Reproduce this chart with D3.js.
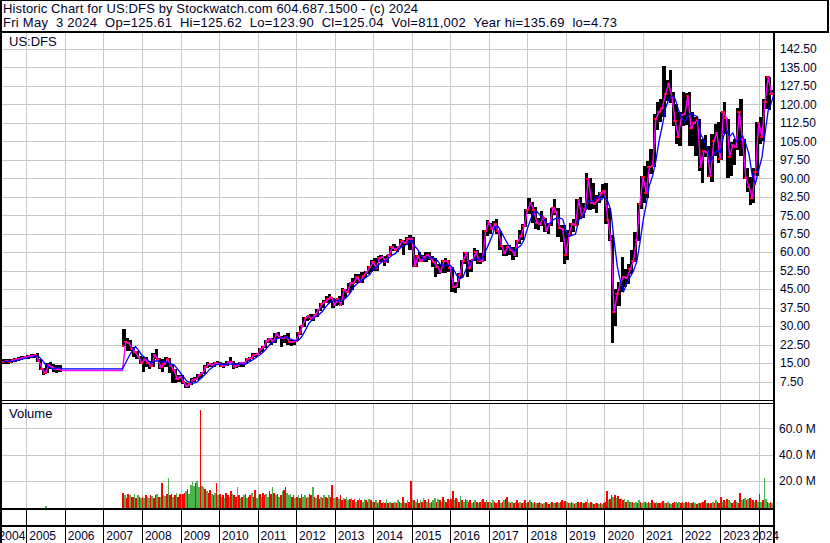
<!DOCTYPE html>
<html>
<head>
<meta charset="utf-8">
<script src="https://cdn.jsdelivr.net/npm/d3@7"></script>
<style>
  body { margin: 0; background: #fff; }
  svg { display: block; font-family: "Liberation Sans", Arial, sans-serif; }
</style>
</head>
<body>
<svg id="chart" width="830" height="543"></svg>
<script>
// monthly bars: May 2004 - Nov 2005, then Jul 2007 - May 2024
const months = d3.timeMonth.range(new Date(2004, 4, 1), new Date(2005, 11, 1))
  .concat(d3.timeMonth.range(new Date(2007, 6, 1), new Date(2024, 5, 1)));

const highs = [
  16.5, 16.8, 16.5, 16.8, 17.2, 17.5, 17.8, 18.0,                 // 2004 May-Dec
  18.3, 18.5, 18.8, 19.0, 16.5, 13.0, 15.0, 15.5, 14.5, 14.0, 14.0, // 2005 Jan-Nov
  29, 25, 24.5, 21.5, 20, 18,                                     // 2007 Jul-Dec
  17.5, 17.5, 16, 19, 20.5, 17, 16.5, 17.5, 17, 14, 12.5, 10,     // 2008
  10, 7.5, 7, 9, 9.5, 10.5, 11.5, 14, 15.5, 15, 15.5, 16,         // 2009
  15.5, 15, 16, 17.5, 16, 15, 15.5, 15.5, 17, 17.5, 19, 19,       // 2010
  21, 22, 24.5, 25, 25, 27, 27.5, 26, 26.5, 27, 24.5, 24.5,       // 2011
  27.5, 30, 33.5, 34, 35, 35, 37, 39.5, 40.5, 42, 43, 41.5,       // 2012
  41, 42, 45.5, 45, 47.5, 49.5, 51, 51, 52, 52.5, 54.5, 57,       // 2013
  57.5, 58.5, 59, 58.5, 59, 62.5, 63.5, 62.5, 65.5, 65, 66, 67,   // 2014
  66, 59, 60, 59, 60, 60, 58.5, 57.5, 55, 57, 57.5, 57,           // 2015
  54, 48, 51.5, 57, 60, 60, 57, 61.5, 61, 59.5, 69, 73,           // 2016
  72, 72.5, 73.5, 68.5, 63, 63, 63, 62, 65, 69, 71.5, 77.5,       // 2017
  81.9, 80.5, 78.5, 74, 76.5, 74, 72, 78, 81.5, 78, 71, 71,       // 2018
  69, 72, 73.5, 81.5, 82.5, 80, 92, 90, 88, 83, 84.5, 87.5,       // 2019
  88, 78, 67, 45, 48, 58, 53, 55, 61, 68, 80, 91,                 // 2020
  95, 97, 102, 116, 121, 122, 135.7, 130, 134, 125, 120, 117,     // 2021
  125, 124.5, 125, 117, 115, 114, 106, 107.5, 103, 108, 112, 113, // 2022
  117, 121, 114, 104.5, 106, 118.5, 122, 106, 94, 90.5, 94, 113,  // 2023
  115, 122, 131.5, 131, 125.6                                     // 2024 Jan-May
];

const lows = [
  14.5, 14.8, 14.8, 15.0, 15.5, 15.8, 16.2, 16.5,
  16.8, 17.0, 17.0, 15.5, 12.0, 10.0, 11.0, 12.5, 11.5, 11.0, 11.5,
  22, 20, 20, 17.5, 16.5, 14.5,
  11.5, 13.5, 12.5, 13.5, 16.5, 12.5, 11.5, 13.5, 11, 7, 7, 7.5,
  6.5, 5, 4.73, 6, 7.5, 8, 9, 10.5, 13, 13.5, 13.5, 14,
  13.2, 13, 13.8, 15, 12.5, 13, 13.2, 13.5, 14.5, 16, 16.5, 17.5,
  18.5, 19.5, 21, 23, 22.5, 23, 25, 21.5, 23, 22.5, 22, 22.5,
  24, 26.5, 29.5, 32, 32.5, 32, 33.5, 36, 37.5, 39.5, 39.5, 37.5,
  38, 38.5, 38.5, 41.5, 43.5, 44.5, 47.5, 47.5, 47.5, 49.5, 51, 52,
  52.5, 52.5, 56, 54.5, 55.5, 58.5, 60.5, 60, 62, 59, 63, 61,
  54, 54, 56, 56, 56, 57, 54, 50, 51, 51.5, 51.5, 52,
  44, 43.5, 45.5, 49.5, 55, 50, 52, 56.5, 55, 55, 56.5, 66.5,
  67.5, 69, 67.5, 61, 58.5, 58.5, 59, 57, 58, 63.5, 65, 70,
  75.5, 72, 69.5, 69, 70.5, 68, 67.5, 70.5, 75, 66, 64, 55,
  57, 66.5, 68, 71, 73.5, 74, 77.5, 77, 77.5, 76, 80, 82,
  71.5, 64.5, 23.3, 30, 38, 44, 46, 47, 51, 56, 64.5, 77.5,
  80, 82, 91.5, 94.5, 109.5, 113, 115, 121.5, 120.5, 111, 104, 103,
  111, 111.5, 103, 103, 99, 93, 88, 98.5, 90.5, 88.5, 99, 96,
  97.5, 108, 90, 91, 95.5, 101.5, 99, 89.5, 84.5, 79, 80, 91,
  104, 105, 118, 117.5, 123.9
];

const closes = [
  15.5, 15.8, 15.6, 16.2, 16.5, 16.8, 17.2, 17.5,
  17.8, 18.0, 18.2, 16.0, 12.5, 11.0, 14.0, 13.5, 12.5, 12.5, 12.0,
  23.5, 23, 20.8, 19.3, 17.5, 15.1,
  16.5, 15, 13.6, 18.2, 16.6, 13.2, 14.6, 16.5, 13.8, 12, 8.5, 9.5,
  7.2, 5.5, 6.3, 8.3, 8.5, 10.3, 11, 13.5, 14.5, 14.2, 15, 14.7,
  13.9, 14, 15.3, 15.5, 13.5, 14, 15.2, 14.8, 16.7, 17, 18.3, 18.5,
  20.5, 21.5, 24, 24.8, 23.8, 26.8, 25.5, 25, 25.6, 23.6, 23.5, 24,
  27, 30, 33.3, 33.9, 33, 34.6, 36.5, 38.8, 39.7, 40.9, 41.6, 38.6,
  40.9, 38.7, 44.8, 43.7, 47.4, 47.6, 49.8, 47.8, 50.5, 51.9, 53.9, 55.9,
  53.6, 57.5, 58.2, 56, 59, 62, 61, 62.2, 64.4, 63.8, 65.4, 65.5,
  54.4, 58.3, 56.3, 58, 58.9, 57.6, 55.8, 53.9, 52, 56.2, 56.6, 53.6,
  45.8, 46.4, 50.9, 56.3, 59.6, 53.6, 56.8, 60, 56.6, 56.6, 68.5, 72.1,
  69.4, 71.3, 68.4, 62.6, 59.5, 62.2, 61, 59, 64.5, 66.5, 70.6, 76.9,
  79.8, 77.2, 71.9, 71.3, 74.3, 68.9, 71.4, 78, 76.4, 69.7, 69.4, 59,
  67.5, 71.5, 71.2, 81, 74.5, 77.6, 89.7, 80.1, 79.7, 81.2, 84, 84.8,
  73, 65.5, 35.7, 43, 47.5, 50.1, 49.4, 53.1, 56.5, 65.1, 79.4, 90.5,
  83.8, 94.5, 95, 114, 117, 118.3, 124.3, 128.2, 122.9, 113.3, 106.7, 115.6,
  116, 123.5, 110.2, 112.5, 113.5, 94.6, 101, 100.5, 90.9, 105, 108.5, 97.8,
  116.7, 114.5, 98.8, 103.5, 102.8, 116.8, 105.6, 90.2, 86.6, 81.9, 92.5, 112.4,
  106.8, 120.9, 131.1, 124.3, 125.04
];

// volume in millions, two values per month (1st and 2nd half)
const volumes = [
  0, 0, 0, 0, 0, 0, 0, 0, 0, 0, 0, 0, 0, 0, 0, 0,                                   // 2004
  0, 0, 0, 0, 0, 0, 0, 0, 0, 0, 0, 0, 0.4, 0, 0, 0, 0, 0, 0, 0, 0, 0,               // 2005
  10.5, 9, 7, 10, 9.5, 8, 7.5, 10, 6.5, 9, 8, 7,                                    // 2007
  8, 7, 9.5, 8, 6.5, 9, 8.5, 7, 9, 10, 8, 7.5, 18, 9, 8.5, 10, 22, 9, 10, 8, 9.5, 11, 8, 10,
  9, 10, 11, 12, 14, 10, 17, 19, 16, 18, 20, 15, 74, 16, 15, 14, 12, 11, 13, 10, 9, 11, 18, 9,
  10, 8, 9, 7, 11, 9, 8, 12, 10, 9, 8, 15, 9, 7, 8, 9, 10, 7, 8, 9, 11, 8, 13, 7,
  9, 10, 8, 11, 9, 10, 8, 12, 10, 15, 11, 9, 10, 8, 9, 12, 13, 15, 11, 9, 10, 8, 9, 7,
  8, 9, 7, 10, 8, 9, 7, 8, 10, 9, 15, 8, 7, 9, 6, 8, 7, 9, 8, 7, 9, 8, 16.5, 7,
  7, 8, 6, 9, 5, 7, 6, 8, 5, 6, 7, 5, 6, 4, 5, 7, 5, 4, 6, 5, 4, 6, 5, 4,
  4, 5, 3, 4, 5, 3, 4, 3, 6, 3, 4, 3, 3, 4, 3, 5, 4, 3, 7.5, 4, 3, 5, 4, 19.5,
  6, 5, 4, 6, 3, 5, 4, 7, 5, 4, 6, 3, 4, 5, 7, 4, 6, 5, 4, 7.5, 5, 4, 6, 5,
  6, 12, 5, 7, 6, 4, 8.5, 5, 4, 6, 5, 4, 5, 3, 4, 5, 4, 3, 4, 5, 6, 4, 5, 4,
  4, 3, 5, 4, 3, 4, 5, 3, 4, 5, 6, 7.5, 4, 3, 4, 3, 4, 5, 3, 4, 3, 4, 5, 3,
  4, 5, 4, 3, 4, 3, 3, 4, 3, 2.5, 3, 4, 3, 2.5, 3, 4, 3, 3, 4, 3, 4, 5, 4, 4.5,
  4, 3, 3, 4, 3, 2.5, 3, 4, 3, 4, 3, 3, 4, 6, 3, 4, 3, 2.5, 3, 3, 2.5, 3, 2.5, 3,
  4, 12, 5, 6, 9.5, 8, 9, 7, 8.5, 6, 7, 5, 6, 4, 5, 4, 3.5, 4, 3, 4, 3, 5, 4, 3,
  3.5, 4, 3, 4, 3, 5, 4, 3, 4, 3, 3, 4, 4.5, 3, 3, 4, 3, 2.5, 3, 4, 3.5, 3, 4, 3,
  4, 3, 3.5, 3, 4, 3, 3, 4, 3, 2.5, 3, 3, 4, 3.5, 5, 3, 3, 2.5, 3, 4, 3, 5, 4, 3,
  8, 4, 5, 4, 6, 5, 4, 3, 4, 5, 4, 3, 11, 5, 6, 7, 5, 6, 7, 6, 5, 4, 5, 4,
  10, 4, 5, 22, 6, 4, 3, 4, 3, 2                                                    // 2024
];

// g = up day volume, r = down day volume
const volumeSide = [
  "gggggggggggggggg", "gggggggggggggggggggggg", "rgrrgrrgrgrg",
  "rgrggrgrrgrgrggrgrrgrgrr", "grrgrggggrggrggrgrrgrgrg", "rgrgrrgrgrrgrgrgrgrrgrrg",
  "grgrrggrrgrgrgrgrrgggrrg", "rgrrggrgrrgrgrrgrgrrgrrg", "grgrrgrggrgrrgrgrggrrgrg",
  "rgrgrrgrgrgrrgrgrgrgrgrr", "grgrrgrgrgrgrggrgrgrgrrg", "rrgrgrgrgrgrrgrgrgrgrrgr",
  "grgrrgrgrgrrgrgrgrrgrgrg", "rgrgrgrrgrgrgrgrgrrgrrgr", "grgrgrgrgrgrrggrgrgrgrgr",
  "rrgrrgrgrrgrgrgrgrggrgrg", "grgrgrgrgrrgrgrgrgrrgrgr", "rgrgrgrrgrgrgrrgrgrgrgrr",
  "rgrgrggrgrgrrgrgrgrgrgrg", "rgrggrgrgr"
].join("");

const priceTicks = [7.5, 15, 22.5, 30, 37.5, 45, 52.5, 60, 67.5, 75, 82.5, 90, 97.5, 105, 112.5, 120, 127.5, 135, 142.5];
const volumeTicks = [20, 40, 60];
const years = [2004, 2005, 2006, 2007, 2008, 2009, 2010, 2011, 2012, 2013, 2014,
  2015, 2016, 2017, 2018, 2019, 2020, 2021, 2022, 2023, 2024];

const titleLine = "Historic Chart for US:DFS by Stockwatch.com 604.687.1500 - (c) 2024";
const infoLine = "Fri May  3 2024  Op=125.61  Hi=125.62  Lo=123.90  Cl=125.04  Vol=811,002  Year hi=135.69  lo=4.73";

const textColor = "#00002a";
const gridColor = "#c8c8c8";

const svg = d3.select("#chart");

const x = d3.scaleTime()
  .domain([new Date(2005, 0, 1), new Date(2024, 0, 1)])
  .range([26.3, 758.7]);
const y = d3.scaleLinear().domain([0, 142.5]).range([400, 48.8]);
const yv = d3.scaleLinear().domain([0, 60]).range([507, 428.3]);

svg.append("rect").attr("width", 830).attr("height", 543).attr("fill", "#fff");

var defs = svg.append("defs");
defs.append("clipPath").attr("id", "clipP")
  .append("rect").attr("x", 2).attr("y", 33).attr("width", 771).attr("height", 367);
defs.append("clipPath").attr("id", "clipV")
  .append("rect").attr("x", 2).attr("y", 404).attr("width", 771).attr("height", 104);

// grid
var grid = svg.append("g").attr("stroke", gridColor).attr("shape-rendering", "crispEdges");
grid.selectAll(".hp").data(priceTicks).enter().append("line")
  .attr("x1", 2).attr("x2", 773)
  .attr("y1", d => Math.round(y(d)) + 0.5).attr("y2", d => Math.round(y(d)) + 0.5);
grid.selectAll(".hv").data(volumeTicks).enter().append("line")
  .attr("x1", 2).attr("x2", 773)
  .attr("y1", d => Math.round(yv(d)) + 0.5).attr("y2", d => Math.round(yv(d)) + 0.5);
var yearLines = years.slice(1).map(yr => Math.round(x(new Date(yr, 0, 1))) + 0.5);
yearLines.forEach(function (xx) {
  grid.append("line").attr("x1", xx).attr("x2", xx).attr("y1", 33).attr("y2", 400);
  grid.append("line").attr("x1", xx).attr("x2", xx).attr("y1", 404).attr("y2", 508);
});

// price bars
var bars = months.map((m, i) => ({ m: m, h: highs[i], l: lows[i], c: closes[i], o: i > 0 ? closes[i - 1] : closes[i] }));
var gP = svg.append("g").attr("clip-path", "url(#clipP)").attr("shape-rendering", "crispEdges");
gP.selectAll(".bar").data(bars).enter().append("rect")
  .attr("x", d => x(d.m))
  .attr("width", d => x(d3.timeMonth.offset(d.m, 1)) - x(d.m))
  .attr("y", d => y(d.h))
  .attr("height", d => y(d.l) - y(d.h))
  .attr("fill", "#000");
gP.selectAll(".tc").data(bars).enter().append("rect")
  .attr("x", d => x(d3.timeMonth.offset(d.m, 1)) - 2)
  .attr("width", 2)
  .attr("y", d => y(d.c) - 1)
  .attr("height", 2)
  .attr("fill", "#ff0000");
gP.selectAll(".to").data(bars).enter().append("rect")
  .attr("x", d => x(d.m))
  .attr("width", 1.5)
  .attr("y", d => y(Math.min(d.h, Math.max(d.l, d.o))) - 1)
  .attr("height", 2)
  .attr("fill", "#ff0000");

// averages: close line and 4-month average, plotted at month end
var slow = closes.map((c, i) => d3.mean(closes.slice(Math.max(0, i - 3), i + 1)));
function linePoints(vals) {
  var pts = [];
  months.forEach(function (m, i) {
    if (i > 0 && (m - months[i - 1]) > 40 * 864e5) pts.push([x(m), y(vals[i - 1])]);
    pts.push([x(d3.timeMonth.offset(m, 1)), y(vals[i])]);
  });
  return pts;
}
var line = d3.line();
var gL = svg.append("g").attr("clip-path", "url(#clipP)").attr("fill", "none");
gL.append("path").attr("d", line(linePoints(closes))).attr("stroke", "#ff00ff").attr("stroke-width", 1.4);
gL.append("path").attr("d", line(linePoints(slow))).attr("stroke", "#0000ff").attr("stroke-width", 1.3);

// volume
var halves = volumes.map(function (v, i) {
  var m = months[Math.floor(i / 2)];
  var mid16 = new Date(m.getFullYear(), m.getMonth(), 16);
  return {
    s: i % 2 ? mid16 : m,
    e: i % 2 ? d3.timeMonth.offset(m, 1) : mid16,
    v: v,
    side: volumeSide[i]
  };
}).filter(d => d.v > 0);
var gV = svg.append("g").attr("clip-path", "url(#clipV)").attr("shape-rendering", "crispEdges");
gV.selectAll("rect").data(halves).enter().append("rect")
  .attr("x", d => x(d.s))
  .attr("width", d => Math.max(1, x(d.e) - x(d.s)))
  .attr("y", d => yv(d.v))
  .attr("height", d => yv(0) - yv(d.v) + 1)
  .attr("fill", d => d.side === "g" ? "#4db34d" : "#ff0000");

// frame
var frame = svg.append("g").attr("fill", "#000").attr("shape-rendering", "crispEdges");
[[0, 0, 829, 1], [0, 0, 2, 543], [827, 0, 2, 33], [0, 31, 829, 2], [773, 31, 2, 512],
 [0, 400, 775, 1], [0, 403, 775, 1], [0, 508, 775, 2], [0, 525, 775, 2]]
  .forEach(r => frame.append("rect").attr("x", r[0]).attr("y", r[1]).attr("width", r[2]).attr("height", r[3]));
yearLines.forEach(function (xx) {
  frame.append("rect").attr("x", xx - 0.5).attr("y", 509).attr("width", 1).attr("height", 34);
});

// texts
svg.append("text").attr("x", 3).attr("y", 13).attr("font-size", 13).attr("fill", textColor)
  .attr("textLength", 415).attr("lengthAdjust", "spacing")
  .style("white-space", "pre").text(titleLine);
svg.append("text").attr("x", 3).attr("y", 26.5).attr("font-size", 13).attr("fill", textColor)
  .attr("textLength", 614).attr("lengthAdjust", "spacing")
  .style("white-space", "pre").text(infoLine);
svg.append("text").attr("x", 9).attr("y", 46).attr("font-size", 13).attr("fill", textColor).text("US:DFS");
svg.append("text").attr("x", 9).attr("y", 418).attr("font-size", 13).attr("fill", textColor).text("Volume");

var yAxis = d3.axisRight(y).tickValues(priceTicks).tickSize(0).tickPadding(5).tickFormat(d3.format(".2f"));
svg.append("g").attr("transform", "translate(775,0)").call(yAxis)
  .attr("font-size", 12).attr("font-family", null)
  .call(g => g.select(".domain").remove())
  .selectAll("text").attr("fill", textColor);

var vAxis = d3.axisRight(yv).tickValues(volumeTicks).tickSize(0).tickPadding(4)
  .tickFormat(d => d.toFixed(1) + " M");
svg.append("g").attr("transform", "translate(775,0)").call(vAxis)
  .attr("font-size", 12).attr("font-family", null)
  .call(g => g.select(".domain").remove())
  .selectAll("text").attr("fill", textColor);

var gY = svg.append("g").attr("font-size", 12).attr("fill", textColor);
years.forEach(function (yr, i) {
  var t = gY.append("text").attr("y", 540).text(yr);
  var w = t.node().getComputedTextLength();
  var bx = x(new Date(yr, 0, 1));
  var tx = i === 0 ? x(new Date(yr + 1, 0, 1)) - 1 - w : Math.min(bx + 3, 779 - w);
  t.attr("x", tx);
});
</script>
</body>
</html>
